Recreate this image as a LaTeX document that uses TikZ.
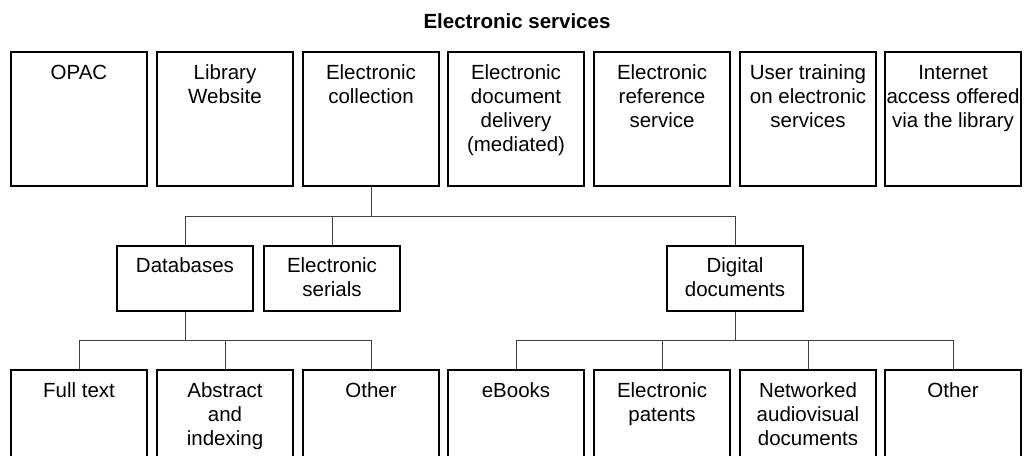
\documentclass[tikz,border=0pt]{standalone}
\usepackage{fontspec}
\setmainfont{Liberation Sans}
\newcommand\fl{\rule{0pt}{15pt}}
\begin{document}
\begin{tikzpicture}[x=1pt,y=-1pt,
  box/.style={draw=black, line width=1.6pt, minimum width=136pt, inner sep=0pt, anchor=north},
  topbox/.style={box, minimum height=134pt},
  midbox/.style={box, minimum height=65pt},
  botbox/.style={box, minimum height=130pt},
  lbl/.style={align=center, inner sep=0pt, anchor=north, yshift=-13pt, font=\fontsize{20.5}{24}\selectfont},
  conn/.style={draw=black!75, line width=0.9pt}]
\useasboundingbox (0,0) rectangle (1024,455);
\clip (0,0) rectangle (1024,455);
\node[font=\bfseries\fontsize{20.5}{24}\selectfont, inner sep=0pt] (title) at (517,21) {Electronic services};
% top row
\node[topbox, label={[lbl]north:{\fl OPAC}}] (opac) at (79,51) {};
\node[topbox, label={[lbl]north:{\fl Library\\Website}}] (web) at (225,51) {};
\node[topbox, label={[lbl]north:{\fl Electronic\\collection}}] (ecoll) at (371,51) {};
\node[topbox, label={[lbl]north:{\fl Electronic\\document\\delivery\\(mediated)}}] (edd) at (516,51) {};
\node[topbox, label={[lbl]north:{\fl Electronic\\reference\\service}}] (eref) at (662,51) {};
\node[topbox, label={[lbl]north:{\fl User training\\on electronic\\services}}] (train) at (808,51) {};
\node[topbox, label={[lbl]north:{\fl Internet\\access offered\\via the library}}] (inet) at (953,51) {};
% middle row
\node[midbox, label={[lbl,yshift=1pt]north:{\fl Databases}}] (db) at (185,245) {};
\node[midbox, label={[lbl,yshift=1pt]north:{\fl Electronic\\serials}}] (ser) at (332,245) {};
\node[midbox, label={[lbl,yshift=1pt]north:{\fl Digital\\documents}}] (dig) at (735,245) {};
% bottom row
\node[botbox, label={[lbl]north:{\fl Full text}}] (full) at (79,369) {};
\node[botbox, label={[lbl]north:{\fl Abstract\\and\\indexing}}] (abs) at (225,369) {};
\node[botbox, label={[lbl]north:{\fl Other}}] (oth1) at (371,369) {};
\node[botbox, label={[lbl]north:{\fl eBooks}}] (ebk) at (516,369) {};
\node[botbox, label={[lbl]north:{\fl Electronic\\patents}}] (pat) at (662,369) {};
\node[botbox, label={[lbl]north:{\fl Networked\\audiovisual\\documents}}] (av) at (808,369) {};
\node[botbox, label={[lbl]north:{\fl Other}}] (oth2) at (953,369) {};
% connectors
\coordinate (j1) at (371,216);
\coordinate (j2) at (185,340);
\coordinate (j3) at (735,340);
\draw[conn] (ecoll.south) -- (j1);
\draw[conn] (j1) -| (db.north);
\draw[conn] (j1) -| (ser.north);
\draw[conn] (j1) -| (dig.north);
\draw[conn] (db.south) -- (j2);
\draw[conn] (j2) -| (full.north);
\draw[conn] (j2) -| (abs.north);
\draw[conn] (j2) -| (oth1.north);
\draw[conn] (dig.south) -- (j3);
\draw[conn] (j3) -| (ebk.north);
\draw[conn] (j3) -| (pat.north);
\draw[conn] (j3) -| (av.north);
\draw[conn] (j3) -| (oth2.north);
\end{tikzpicture}
\end{document}
